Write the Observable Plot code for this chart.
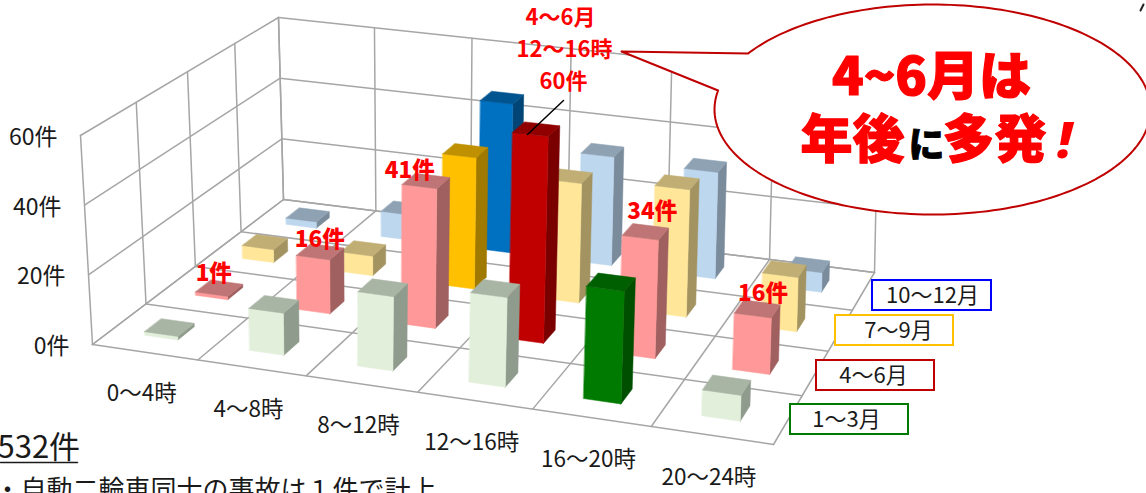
<!DOCTYPE html>
<html lang="ja">
<head>
<meta charset="utf-8">
<script src="https://cdn.jsdelivr.net/npm/d3@7"></script>
<script src="https://cdn.jsdelivr.net/npm/@observablehq/plot@0.6"></script>
<style>
html,body{margin:0;padding:0;background:#fff;overflow:hidden}
svg{display:block}
</style>
</head>
<body>
<div id="chart"></div>
<script>
const hours = ["0～4時","4～8時","8～12時","12～16時","16～20時","20～24時"];
const quarters = ["1～3月","4～6月","7～9月","10～12月"];
const q1Values = [1,12,21,25,31,7];
const q2Values = [1,16,41,60,34,16];
const q3Values = [4,6,40,36,38,16];
const q4Values = [2,8,47,34,33,6];
const valueTicks = [0,20,40,60];
const valueTickLabels = ["0件","20件","40件","60件"];
const labelled = [[1,0,"1件"],[1,1,"16件"],[1,2,"41件"],[1,4,"34件"],[1,5,"16件"]];
const labelDx = [-7,-2,-18,5,4];
const labelDy = [-14,-12,-10,-20,-15];

const palette = {
  q1:["#E2EFDA","#A9B5A4","#8F9B8C"], q2:["#FF9999","#BF7575","#A06060"],
  q3:["#FFE699","#C0AE74","#A29360"], q4:["#BDD7EE","#8EA2B4","#7A8B9C"],
  green:["#007A00","#005F00","#004F00"], red:["#C00000","#900000","#7A0000"],
  gold:["#FFC000","#BF9000","#A07900"], blue:["#0070C0","#005590","#004575"]
};
const seriesColors = ["q1","q2","q3","q4"];
const highlights = {"0-4":"green","1-3":"red","2-2":"gold","3-2":"blue"};
const legendColors = ["#007A00","#C00000","#FFC000","#0000FF"];

// Oblique frame of the 3D chart.
const floorQuad = [[92,344],[773,444],[874,272],[283,199]];
const topQuad   = [[80,135],[780,218],[878,81],[278,17]];
function homography(q){
  const [[x0,y0],[x1,y1],[x2,y2],[x3,y3]] = q;
  const dx1=x1-x2, dx2=x3-x2, dx3=x0-x1+x2-x3, dy1=y1-y2, dy2=y3-y2, dy3=y0-y1+y2-y3;
  const det=dx1*dy2-dx2*dy1, g=(dx3*dy2-dx2*dy3)/det, h=(dx1*dy3-dx3*dy1)/det;
  const a=x1-x0+g*x1, b=x3-x0+h*x3, d=y1-y0+g*y1, e=y3-y0+h*y3;
  return (u,v)=>{const w=g*u+h*v+1; return [(a*u+b*v+x0)/w,(d*u+e*v+y0)/w];};
}
const floorH = homography(floorQuad), topH = homography(topQuad);
const maxValue = 60, nH = hours.length, nQ = quarters.length;
function project(hourPos, depthPos, value){
  const [xa,ya]=floorH(hourPos/nH, depthPos/nQ), [xb,yb]=topH(hourPos/nH, depthPos/nQ), t=value/maxValue;
  return {x:xa+(xb-xa)*t, y:ya+(yb-ya)*t};
}

// grid lines
const grid=[]; let gid=0;
const seg=(a,b)=>{gid++; grid.push({...a,z:gid},{...b,z:gid});};
for(const t of valueTicks){ seg(project(0,0,t),project(0,nQ,t)); seg(project(0,nQ,t),project(nH,nQ,t)); }
for(let i=0;i<=nQ;i++){ seg(project(0,i,0),project(0,i,maxValue)); seg(project(0,i,0),project(nH,i,0)); }
for(let i=0;i<=nH;i++){ seg(project(i,nQ,0),project(i,nQ,maxValue)); seg(project(i,0,0),project(i,nQ,0)); }

// bar faces, painted back to front
const barSize = 0.32, barCentre = 0.485;
const seriesValues=[q1Values,q2Values,q3Values,q4Values];
const faces=[]; let fid=0;
for(let q=nQ-1;q>=0;q--) for(let h=0;h<nH;h++){
  const val=seriesValues[q][h], c=palette[highlights[q+"-"+h]||seriesColors[q]];
  const a=h+barCentre-barSize/2,b=h+barCentre+barSize/2,n=q+.5-barSize/2,f=q+.5+barSize/2;
  const add=(pts,col)=>{fid++; for(const p of pts) faces.push({...p,z:fid,col});};
  add([project(b,n,0),project(b,f,0),project(b,f,val),project(b,n,val)],c[2]);
  add([project(a,n,0),project(b,n,0),project(b,n,val),project(a,n,val)],c[0]);
  add([project(a,n,val),project(b,n,val),project(b,f,val),project(a,f,val)],c[1]);
}

const hourLabels = hours.map((t,i)=>({t,...project(i+.5,0,0)}));
const tickLabels = valueTicks.map((v,i)=>({t:valueTickLabels[i],...project(0,0,v)}));
const valueLabels = labelled.map(([q,h,t],i)=>{const p=project(h+.5,q+.5,seriesValues[q][h]); return {t,x:p.x+labelDx[i],y:p.y+labelDy[i]};});

const legend = [
  {t:"1～3月",x1:790,x2:908,y1:404,y2:434,cx:846},
  {t:"4～6月",x1:816,x2:934,y1:360,y2:390,cx:873},
  {t:"7～9月",x1:835,x2:953,y1:315,y2:345,cx:898},
  {t:"10～12月",x1:872,x2:991,y1:280,y2:310,cx:932}
].map((d,i)=>({...d,col:legendColors[i],cy:(d.y1+d.y2)/2}));

// callout outline: ellipse + tail
const callout = [];
const cx0=932, cy0=109, rx=218, ry=105;
{
  const norm=a=>a<0?a+2*Math.PI:a;
  const from=norm(Math.atan2((53-cy0)/ry,(748-cx0)/rx));
  let to=norm(Math.atan2((90-cy0)/ry,(718-cx0)/rx));
  if(to>from) to-=2*Math.PI;
  const steps=200;
  for(let i=0;i<=steps;i++){const t=from+(to+2*Math.PI*(to<from&&from-to<Math.PI?1:0)-from)*i/steps; callout.push({x:cx0+rx*Math.cos(t),y:cy0+ry*Math.sin(t)});}
  callout.reverse();
  callout.push({x:621,y:51});
}

const JP="'Noto Sans CJK JP','Noto Sans'";
const txt=(data,o)=>Plot.text(data,{x:"x",y:"y",text:"t",fontFamily:JP,lineAnchor:"middle",...o});
const heavyRed={fontWeight:900,fill:"#FF0000",stroke:"#FF0000",strokeWidth:1.2};

const plot = Plot.plot({
  width:1146,height:493,margin:0,
  x:{domain:[0,1146],range:[0,1146],axis:null},
  y:{domain:[493,0],range:[493,0],axis:null},
  color:{type:"identity"},
  style:{background:"#fff"},
  marks:[
    Plot.line(grid,{x:"x",y:"y",z:"z",stroke:"#A6A6A6",strokeWidth:1.5}),
    Plot.line(faces,{x:"x",y:"y",z:"z",fill:"col",stroke:"col",strokeWidth:.5,curve:"linear-closed"}),
    // leader
    Plot.line([{x:563,y:100},{x:527,y:134}],{x:"x",y:"y",stroke:"#000",strokeWidth:1.5}),
    txt(tickLabels,{dx:-23,dy:2,textAnchor:"end",fontSize:23,fill:"#1a1a1a"}),
    txt(hourLabels,{dx:-3,dy:42,fontSize:22.5,fill:"#1a1a1a"}),
    txt(valueLabels,{fontSize:22.5,fontWeight:900,fill:"#FF0000"}),
    txt([{t:"4～6月",x:560,y:17},{t:"12～16時",x:564,y:49},{t:"60件",x:563,y:81}],{fontSize:22,fontWeight:700,fill:"#FF0000"}),
    // legend
    Plot.rect(legend,{x1:"x1",x2:"x2",y1:"y1",y2:"y2",stroke:"col",strokeWidth:2,fill:"#fff"}),
    txt(legend,{x:"cx",y:"cy",fontSize:22,fill:"#1a1a1a"}),
    // callout
    Plot.line(callout,{x:"x",y:"y",fill:"#fff",stroke:"#C00000",strokeWidth:2,curve:"linear-closed"}),
    txt([{t:"4~6月は",x:931,y:78}],{fontSize:52,...heavyRed}),
    txt([{t:"年後",x:852,y:141}],{fontSize:52,...heavyRed}),
    txt([{t:"に",x:926,y:146}],{fontSize:36,fontWeight:900,fill:"#000",stroke:"#000",strokeWidth:.8}),
    txt([{t:"多発",x:994,y:141}],{fontSize:52,...heavyRed}),
    txt([{t:"!",x:1064,y:141}],{fontSize:50,fontWeight:900,fontStyle:"italic",fill:"#FF0000",fontFamily:"'Noto Sans','DejaVu Sans'"}),
    // note text below the chart
    txt([{t:"532件",x:-3,y:448}],{textAnchor:"start",fontSize:31,fill:"#1a1a1a"}),
    Plot.line([{x:0,y:462},{x:77,y:462}],{x:"x",y:"y",stroke:"#1a1a1a",strokeWidth:1.5}),
    txt([{t:"・自動二輪車同士の事故は１件で計上",x:-6,y:490}],{textAnchor:"start",fontSize:26,fill:"#1a1a1a"}),
    // fragment of a clipped glyph at the top right
    Plot.line([{x:1140,y:10},{x:1143,y:4}],{x:"x",y:"y",stroke:"#222",strokeWidth:2})
  ]
});
document.getElementById("chart").append(plot);
</script>
</body>
</html>
